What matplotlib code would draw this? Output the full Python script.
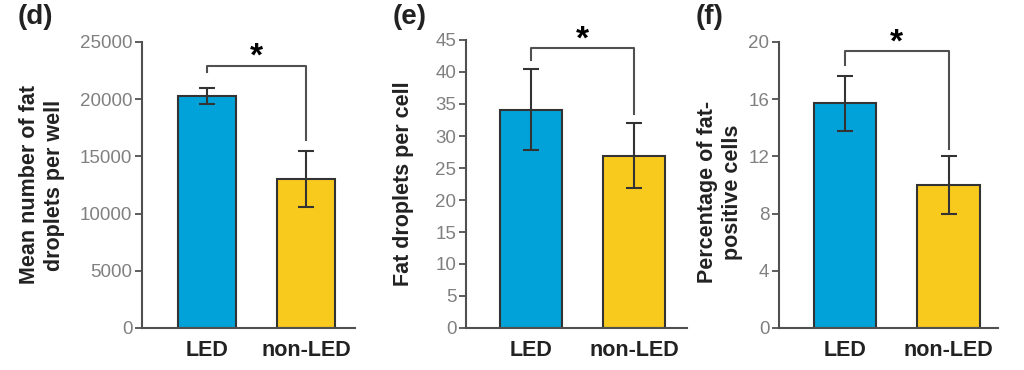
import numpy as np
import matplotlib.pyplot as plt

plt.rcParams['font.family'] = ['Liberation Sans', 'DejaVu Sans']

# data
groups = ['LED', 'non-LED']

d_means = [20300, 13000]
d_err = [700, 2450]
d_bracket = [22900, 22400, 16400]   # bar top, left leg end, right leg end

e_means = [34.1, 26.9]
e_err = [6.3, 5.1]
e_bracket = [43.7, 41.9, 33.5]

f_means = [15.7, 10.0]
f_err = [1.9, 2.05]
f_bracket = [19.35, 18.4, 12.55]

colors = ['#00A2D9', '#F9CA1E']
edge = '#333333'
axis_col = '#505050'
tick_col = '#808080'

W, H = 1024, 370
fig = plt.figure(figsize=(W / 100, H / 100), dpi=100)

# axes boxes in pixels: left, right, top, bottom
boxes = [(142, 355, 42, 328), (466, 687, 40, 328), (779, 998, 42, 328)]
xlims = [(-0.657, 1.495), (-0.626, 1.51), (-0.638, 1.478)]
widths = [0.585, 0.6, 0.605]
panels = [
    ('(d)', d_means, d_err, d_bracket, (0, 25000, 5000), 'Mean number of fat\ndroplets per well', 42, 185, 18),
    ('(e)', e_means, e_err, e_bracket, (0, 45, 5), 'Fat droplets per cell', 403, 184, 393),
    ('(f)', f_means, f_err, f_bracket, (0, 20, 4), 'Percentage of fat-\npositive cells', 720, 192, 696),
]

for (l, r, t, b), xl, w, (lab, means, err, br, (y0, y1, ys), ylab, lx, ly, px) in zip(boxes, xlims, widths, panels):
    ax = fig.add_axes([l / W, 1 - b / H, (r - l) / W, (b - t) / H])
    x = np.arange(len(groups))
    ax.bar(x, means, width=w, color=colors, edgecolor=edge, linewidth=1.5, zorder=2)
    ax.errorbar(x, means, yerr=err, fmt='none', ecolor=edge, elinewidth=1.5,
                capsize=6, capthick=1.5, zorder=3)
    # significance bracket
    ax.plot([0, 0, 1, 1], [br[1], br[0], br[0], br[2]], color=axis_col, lw=1.5,
            clip_on=False, zorder=3)
    ax.annotate('*', xy=(0.5, br[0]), xytext=(0, -5), textcoords='offset points',
                ha='center', va='bottom', fontsize=24, fontweight='bold',
                annotation_clip=False)
    ax.set_xlim(*xl)
    ax.set_ylim(y0, y1)
    ax.set_yticks(np.arange(y0, y1 + ys / 2, ys))
    ax.set_xticks(x)
    ax.set_xticklabels(groups, fontsize=15.5, fontweight='bold', color='#222222')
    ax.tick_params(axis='x', length=0, pad=9)
    ax.tick_params(axis='y', length=5, width=1.3, color=axis_col, labelcolor=tick_col,
                   labelsize=13.5, pad=2)
    for s in ['top', 'right']:
        ax.spines[s].set_visible(False)
    for s in ['left', 'bottom']:
        ax.spines[s].set_color(axis_col)
        ax.spines[s].set_linewidth(1.5)
    fig.text(lx / W, 1 - ly / H, ylab, rotation=90, ha='center', va='center',
             fontsize=15.5, fontweight='bold', color='#222222', linespacing=1.25)
    fig.text(px / W, 1 - 17 / H, lab, ha='left', va='center', fontsize=20,
             fontweight='bold', color='#222222')

plt.savefig('out.png', dpi=100)
